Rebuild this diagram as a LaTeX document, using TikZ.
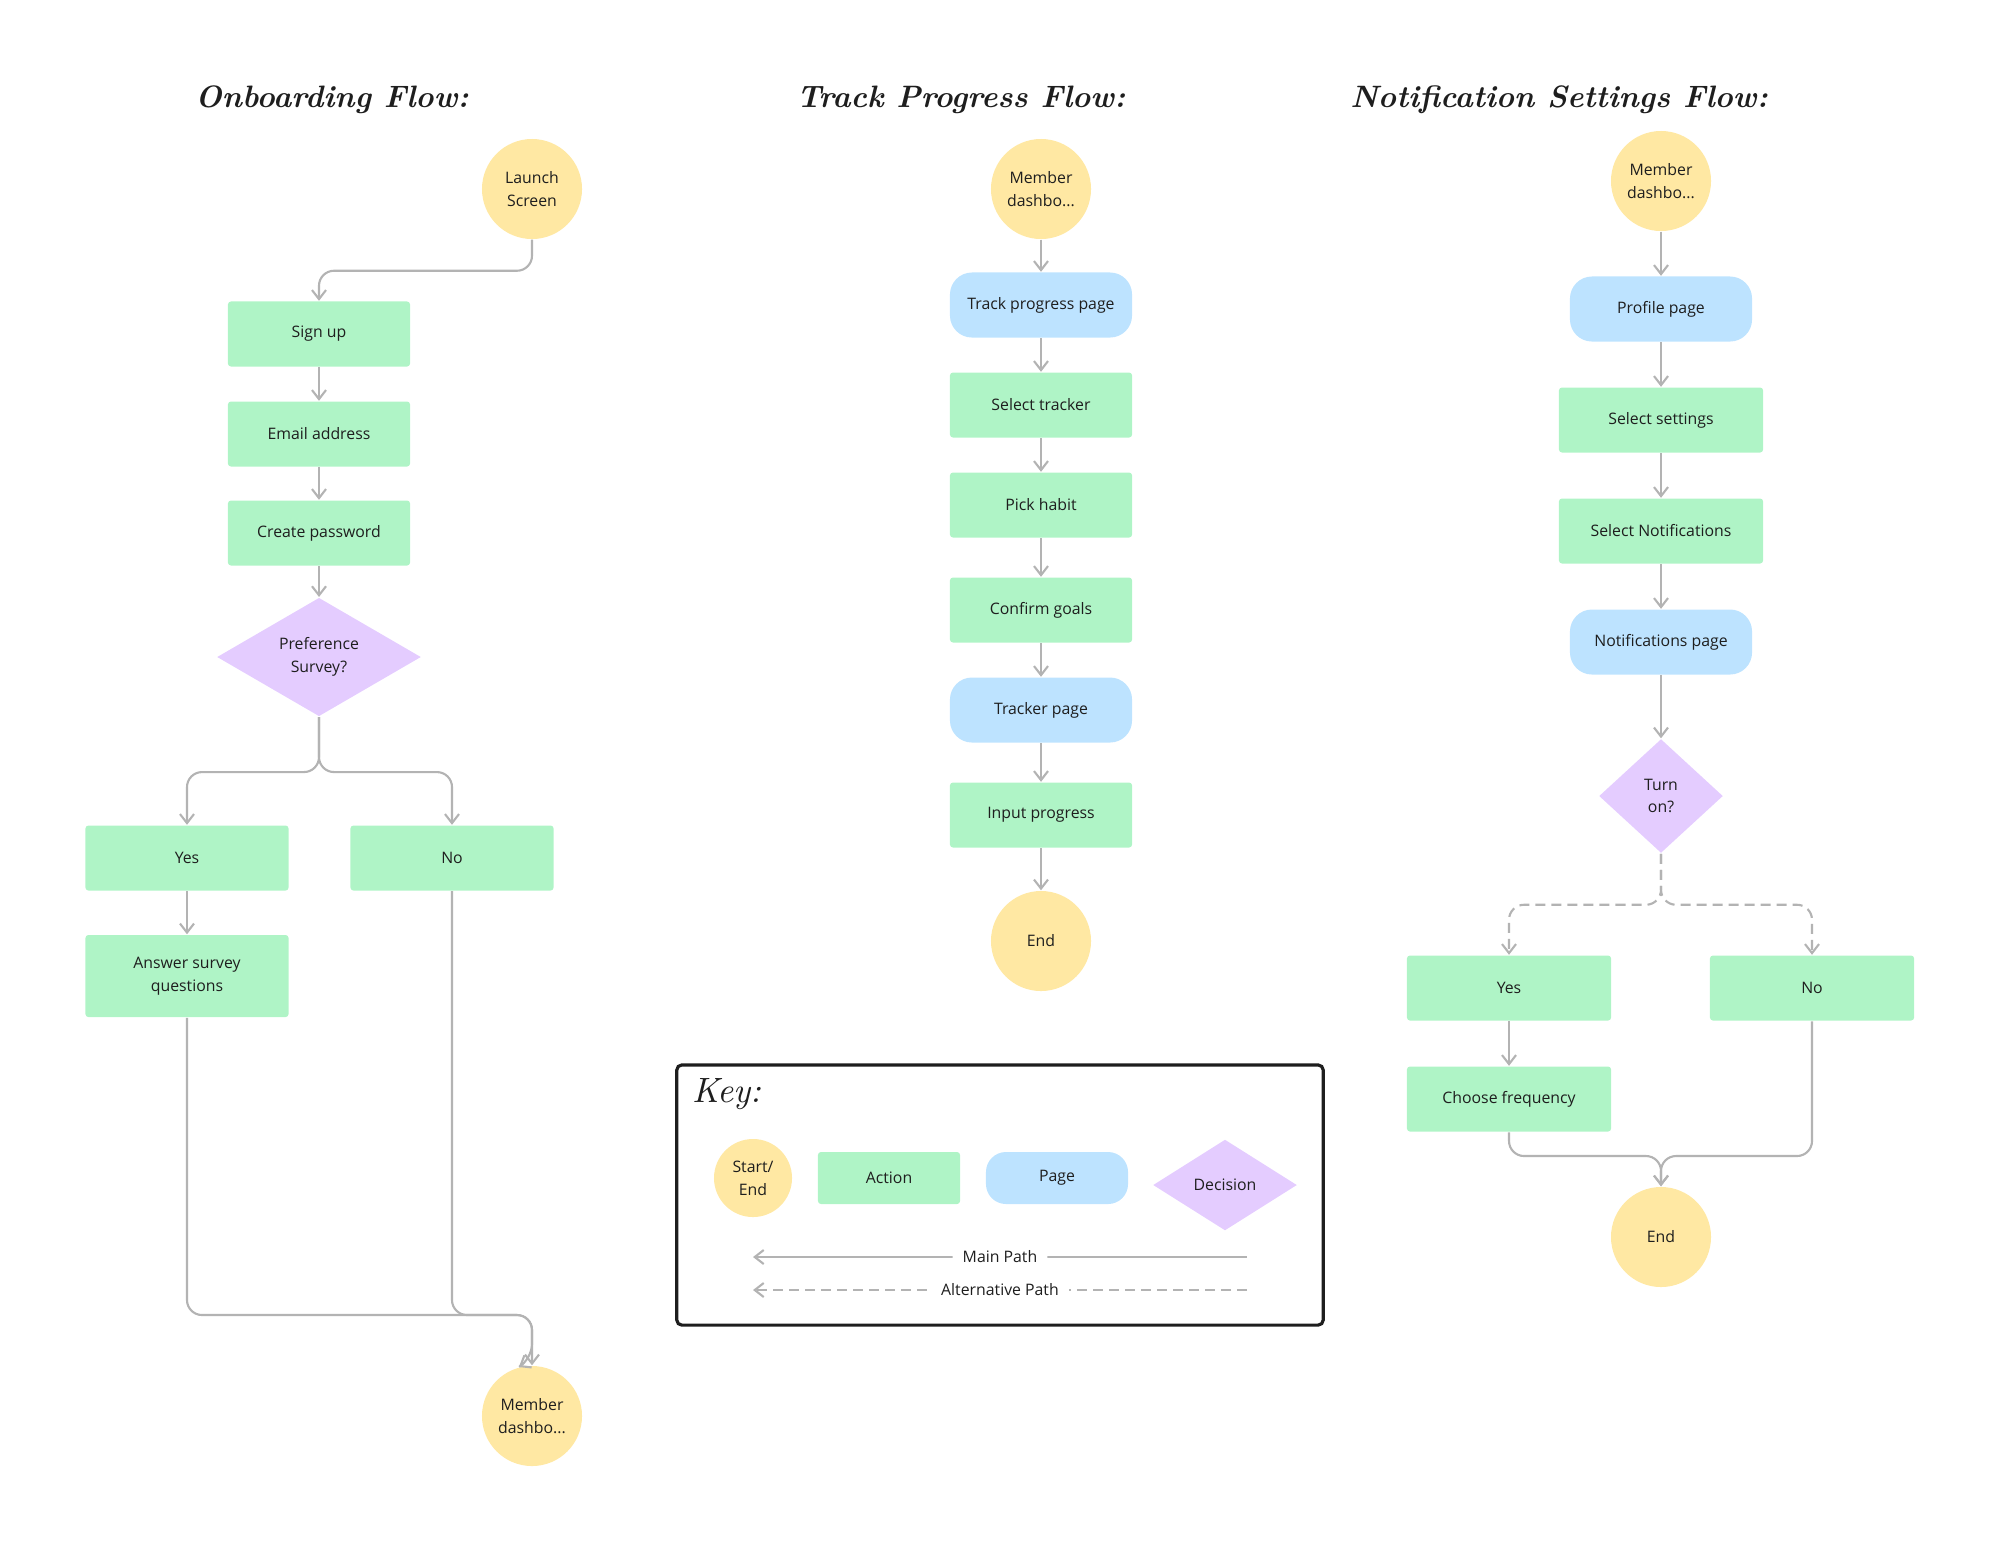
\documentclass[tikz,border=0pt]{standalone}
\usepackage{fontspec}
\usepackage{tikz}
\usetikzlibrary{arrows.meta,shapes.geometric}
\newfontfamily\uifont{Open Sans}
\definecolor{startyellow}{HTML}{FFE8A3}
\definecolor{actiongreen}{HTML}{AFF4C6}
\definecolor{pageblue}{HTML}{BDE3FF}
\definecolor{decisionlilac}{HTML}{E4CCFF}
\definecolor{linegray}{HTML}{B3B3B3}
\definecolor{inkdark}{HTML}{1E1E1E}

\begin{document}
\begin{tikzpicture}[x=0.01cm, y=-0.01cm,
	every node/.style={font=\uifont\fontsize{4.5}{6.5}\selectfont, text=inkdark},
	startend/.style={circle, fill=startyellow, minimum size=1cm, inner sep=0pt, align=center},
	action/.style={rectangle, fill=actiongreen, rounded corners=0.3mm, minimum width=1.82cm, minimum height=0.65cm, align=center},
	pagebox/.style={rectangle, fill=pageblue, rounded corners=2.2mm, minimum width=1.82cm, minimum height=0.65cm},
	decision/.style={diamond, fill=decisionlilac, inner sep=0pt, align=center},
	heading/.style={font=\bfseries\itshape\fontsize{8.8}{11}\selectfont},
	flow/.style={draw=linegray, line width=0.6pt, rounded corners=1.5mm, -{Straight Barb[length=0.9mm, width=1.4mm]}},
	altflow/.style={flow, dash pattern=on 1mm off 0.6mm}]
	\useasboundingbox (0,0) rectangle (2000,1550);

	\node[heading] (title1) at (332,100) {Onboarding Flow:};
	\node[startend] (launch) at (532,189) {Launch\\Screen};
	\node[action] (signup) at (319,334) {Sign up};
	\node[action] (email) at (319,434) {Email address};
	\node[action] (password) at (319,533) {Create password};
	\node[decision, minimum width=2.04cm, minimum height=1.15cm] (survey) at (319,657) {Preference\\Survey?};
	\node[action, minimum width=2.03cm] (yes1) at (187,858) {Yes};
	\node[action, minimum width=2.03cm] (no1) at (452,858) {No};
	\node[action, minimum width=2.03cm, minimum height=0.82cm] (answer) at (187,976) {Answer survey\\questions};
	\node[startend] (dash1) at (532,1416) {Member\\dashbo...};
	\coordinate (merge1) at (532,1315);
	\coordinate (bend1) at (532,1359);
	\draw[flow] (launch.south) -- ++(0,31) -| (signup.north);
	\foreach \a/\b in {signup/email, email/password, password/survey, yes1/answer}
		\draw[flow] (\a.south) -- (\b.north);
	\draw[flow] (survey.south) -- ++(0,55) -| (yes1.north);
	\draw[flow] (survey.south) -- ++(0,55) -| (no1.north);
	\draw[flow] (answer.south) |- (merge1) -- (dash1.north);
	\draw[flow] (no1.south) |- (merge1) -- (bend1) -- (dash1.105);

	\node[heading] (title2) at (961,100) {Track Progress Flow:};
	\node[startend] (dash2) at (1041,189) {Member\\dashbo...};
	\node[pagebox] (trackpage) at (1041,305) {Track progress page};
	\node[action] (tracker) at (1041,405) {Select tracker};
	\node[action] (habit) at (1041,505) {Pick habit};
	\node[action] (goals) at (1041,610) {Confirm goals};
	\node[pagebox] (trackerpage) at (1041,710) {Tracker page};
	\node[action] (input) at (1041,815) {Input progress};
	\node[startend] (end2) at (1041,941) {End};
	\foreach \a/\b in {dash2/trackpage, trackpage/tracker, tracker/habit, habit/goals, goals/trackerpage, trackerpage/input, input/end2}
		\draw[flow] (\a.south) -- (\b.north);

	\node[heading] (title3) at (1559,100) {Notification Settings Flow:};
	\node[startend] (dash3) at (1661,181) {Member\\dashbo...};
	\node[pagebox] (profile) at (1661,309) {Profile page};
	\node[action, minimum width=2.04cm] (settings) at (1661,420) {Select settings};
	\node[action, minimum width=2.04cm] (notif) at (1661,531) {Select Notifications};
	\node[pagebox] (notifpage) at (1661,642) {Notifications page};
	\node[decision, minimum width=1.24cm, minimum height=1.14cm] (turnon) at (1661,796) {Turn\\on?};
	\node[action, minimum width=2.04cm] (yes3) at (1509,988) {Yes};
	\node[action, minimum width=2.04cm] (no3) at (1812,988) {No};
	\node[action, minimum width=2.04cm] (freq) at (1509,1099) {Choose frequency};
	\node[startend] (end3) at (1661,1237) {End};
	\coordinate (merge3) at (1661,1156);
	\foreach \a/\b in {dash3/profile, profile/settings, settings/notif, notif/notifpage, notifpage/turnon, yes3/freq}
		\draw[flow] (\a.south) -- (\b.north);
	\draw[altflow] (turnon.south) -- ++(0,51) -| (yes3.north);
	\draw[altflow] (turnon.south) -- ++(0,51) -| (no3.north);
	\draw[flow] (freq.south) |- (merge3) -- (end3.north);
	\draw[flow] (no3.south) |- (merge3) -- (end3.north);

	\node[draw=inkdark, line width=0.9pt, rounded corners=0.5mm, minimum width=6.46cm, minimum height=2.6cm] (keybox) at (1000,1195) {};
	\node[font=\itshape\fontsize{10}{12}\selectfont] (keytitle) at (727,1094) {Key:};
	\node[startend, minimum size=0.78cm] (keystart) at (753,1178) {Start/\\End};
	\node[action, minimum width=1.42cm, minimum height=0.52cm] (keyaction) at (889,1178) {Action};
	\node[pagebox, minimum width=1.42cm, minimum height=0.52cm, rounded corners=2mm] (keypage) at (1057,1178) {Page};
	\node[decision, minimum width=1.44cm, minimum height=0.91cm] (keydecision) at (1225,1185) {Decision};
	\coordinate (mainR) at (1247,1257);
	\coordinate (mainL) at (753,1257);
	\coordinate (altR) at (1247,1290);
	\coordinate (altL) at (753,1290);
	\draw[flow] (mainR) -- node[fill=white, inner xsep=1mm] (mainlabel) {Main Path} (mainL);
	\draw[altflow] (altR) -- node[fill=white, inner xsep=1mm] (altlabel) {Alternative Path} (altL);
\end{tikzpicture}
\end{document}
